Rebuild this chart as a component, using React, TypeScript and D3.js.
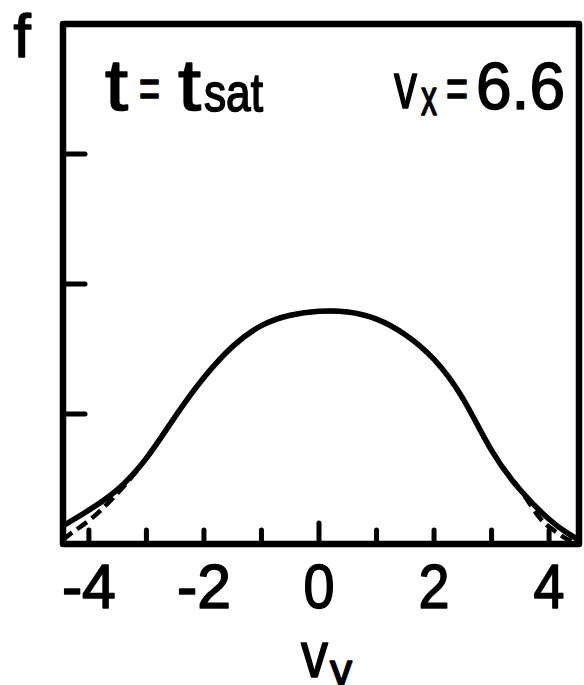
import React from "react";
import * as d3 from "d3";

// Distribution f(v_y) at saturation, v_x = 6.6
const vySolid = [-4.45, -4.0, -3.5, -3.0, -2.5, -2.0, -1.5, -1.0, -0.5, 0.0, 0.5, 1.0, 1.5, 2.0, 2.5, 3.0, 3.5, 4.0, 4.3, 4.52];
const fSolid = [0.14, 0.26, 0.42, 0.66, 0.98, 1.28, 1.52, 1.68, 1.76, 1.79, 1.785, 1.73, 1.61, 1.42, 1.12, 0.72, 0.415, 0.19, 0.09, 0.03];

// Reference (dashed) distribution
const vyDashed = [-4.45, -4.3, -4.0, -3.7, -3.4, -3.0, -2.5, -2.0, -1.5, -1.0, -0.5, 0.0, 0.5, 1.0, 1.5, 2.0, 2.5, 3.0, 3.5, 3.84, 4.1, 4.3, 4.52];
const fDashed = [0.03, 0.085, 0.18, 0.3, 0.44, 0.66, 0.98, 1.28, 1.52, 1.68, 1.76, 1.79, 1.785, 1.73, 1.61, 1.42, 1.12, 0.72, 0.415, 0.2, 0.1, 0.04, 0.0];

const xTicks = [-4, -3, -2, -1, 0, 1, 2, 3, 4];
const xLabelValues = [-4, -2, 0, 2, 4];
const xTickLabels = ["-4", "-2", "0", "2", "4"];
const yTicks = [1, 2, 3];

const W = 584;
const H = 685;
const FONT = "'Liberation Sans', Arial, sans-serif";

type LabelProps = {
  x: number;
  y: number;
  size: number;
  len?: number;
  anchor?: "start" | "middle" | "end";
  children: React.ReactNode;
};

// Lettering with a slight outline so the strokes read as heavy pen lettering
function Label({ x, y, size, len, anchor = "start", children }: LabelProps) {
  return (
    <text
      x={x}
      y={y}
      fontFamily={FONT}
      fontSize={size}
      textAnchor={anchor}
      fill="#000"
      stroke="#000"
      strokeWidth={1.6}
      strokeLinejoin="round"
      {...(len ? { textLength: len, lengthAdjust: "spacingAndGlyphs" } : {})}
    >
      {children}
    </text>
  );
}

export default function App() {
  const x = d3.scaleLinear().domain([-4.45, 4.52]).range([63, 579]);
  const y = d3.scaleLinear().domain([0, 4]).range([544, 24]);

  const line = d3
    .line<[number, number]>()
    .x((d) => x(d[0]))
    .y((d) => y(d[1]))
    .curve(d3.curveNatural);

  const solidPts: [number, number][] = vySolid.map((v, i) => [v, fSolid[i]]);
  const dashedPts: [number, number][] = vyDashed.map((v, i) => [v, fDashed[i]]);

  const [x0, x1] = x.range();
  const [y0, y1] = y.range();

  return (
    <svg
      width={W}
      height={H}
      viewBox={`0 0 ${W} ${H}`}
      style={{ position: "absolute", left: 0, top: 0, background: "#fff" }}
    >
      <rect x={0} y={0} width={W} height={H} fill="#fff" />

      {/* curves */}
      <path d={line(dashedPts) || ""} fill="none" stroke="#000" strokeWidth={4.5} strokeDasharray="12 6" />
      <path d={line(solidPts) || ""} fill="none" stroke="#000" strokeWidth={5.5} strokeLinejoin="round" />

      {/* x ticks */}
      {xTicks.map((t) => (
        <line
          key={`xt${t}`}
          x1={x(t)}
          x2={x(t)}
          y1={y0}
          y2={y0 - (t === 0 ? 21 : 14)}
          stroke="#000"
          strokeWidth={5}
          strokeLinecap="round"
        />
      ))}

      {/* y ticks */}
      {yTicks.map((t) => (
        <line
          key={`yt${t}`}
          x1={x0}
          x2={x0 + 22}
          y1={y(t)}
          y2={y(t)}
          stroke="#000"
          strokeWidth={5}
          strokeLinecap="round"
        />
      ))}

      {/* frame */}
      <rect
        x={x0}
        y={y1}
        width={x1 - x0}
        height={y0 - y1}
        fill="none"
        stroke="#000"
        strokeWidth={6.5}
        strokeLinejoin="round"
      />

      {/* x tick labels */}
      {xLabelValues.map((v, i) => (
        <Label key={`xl${v}`} x={x(v)} y={608} size={63} anchor="middle" len={xTickLabels[i].length > 1 ? 54 : 31}>
          {xTickLabels[i]}
        </Label>
      ))}

      {/* axis labels */}
      <Label x={22} y={57} size={62} anchor="middle">f</Label>
      <Label x={301} y={677} size={64} len={27}>v</Label>
      <Label x={330} y={686} size={46} len={22}>y</Label>

      {/* annotations */}
      <Label x={105} y={110} size={72} len={23}>t</Label>
      <Label x={139} y={107} size={56} len={21}>=</Label>
      <Label x={178} y={110} size={72} len={23}>t</Label>
      <Label x={204} y={111} size={53} len={59}>sat</Label>

      <Label x={394} y={108} size={64} len={23}>v</Label>
      <Label x={421} y={115} size={52} len={16}>x</Label>
      <Label x={446} y={107} size={56} len={22}>=</Label>
      <Label x={476} y={109} size={67} len={89}>6.6</Label>
    </svg>
  );
}
